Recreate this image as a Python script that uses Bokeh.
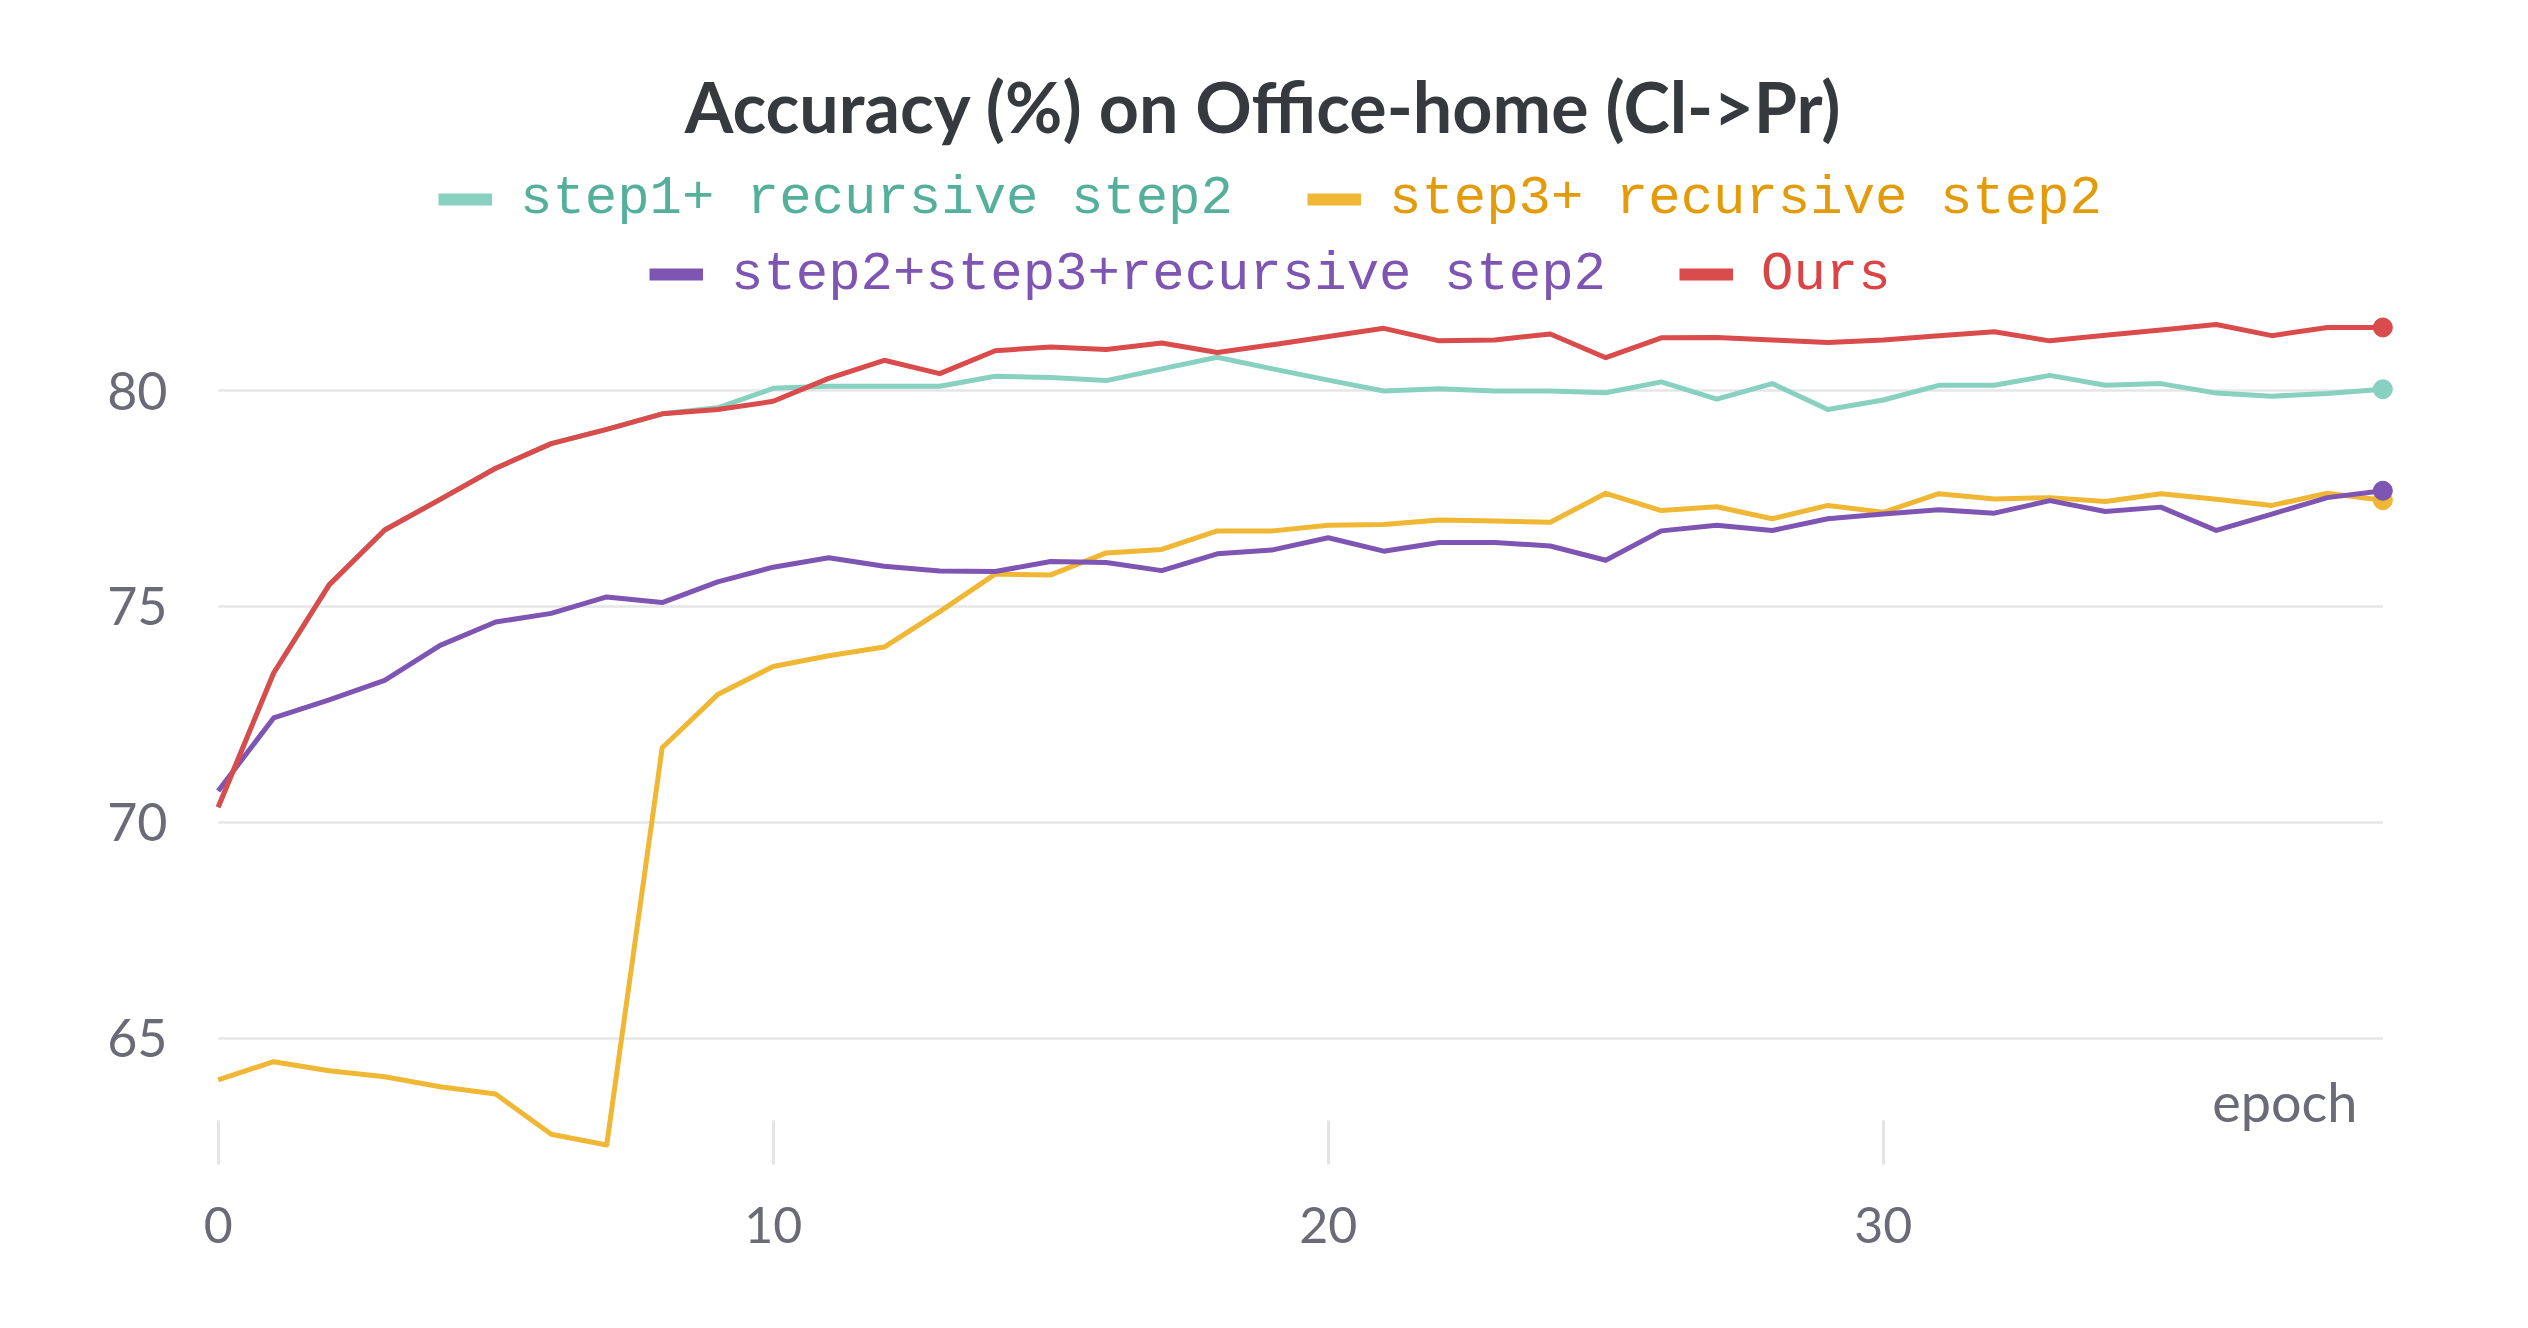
from bokeh.plotting import figure
from bokeh.models import (Range1d, FixedTicker, Legend, LegendItem, Label)
from bokeh.embed import file_html
from bokeh.resources import INLINE

# ---------------- data ----------------
epochs = list(range(40))

step1_recursive = [70.35, 73.46, 75.50, 76.77, 77.48, 78.20, 78.77, 79.10, 79.46, 79.60,
                   80.05, 80.10, 80.10, 80.10, 80.33, 80.30, 80.23, 80.50, 80.77, 80.50,
                   80.24, 79.99, 80.04, 79.99, 79.99, 79.95, 80.20, 79.80, 80.16, 79.56,
                   79.78, 80.12, 80.12, 80.35, 80.12, 80.16, 79.94, 79.87, 79.93, 80.03]

step3_recursive = [64.04, 64.46, 64.25, 64.11, 63.88, 63.71, 62.78, 62.53, 71.73, 72.96,
                   73.61, 73.86, 74.06, 74.88, 75.75, 75.73, 76.24, 76.32, 76.75, 76.75,
                   76.88, 76.90, 77.00, 76.98, 76.95, 77.62, 77.22, 77.31, 77.03, 77.34,
                   77.18, 77.61, 77.49, 77.52, 77.43, 77.61, 77.48, 77.34, 77.62, 77.46]

step23_recursive = [70.73, 72.42, 72.84, 73.29, 74.10, 74.64, 74.84, 75.22, 75.09, 75.57,
                    75.91, 76.13, 75.93, 75.82, 75.81, 76.04, 76.02, 75.83, 76.22, 76.31,
                    76.59, 76.28, 76.48, 76.48, 76.40, 76.07, 76.75, 76.88, 76.76, 77.03,
                    77.14, 77.24, 77.16, 77.45, 77.20, 77.30, 76.76, 77.14, 77.52, 77.68]

ours = [70.35, 73.46, 75.50, 76.77, 77.48, 78.20, 78.77, 79.10, 79.46, 79.56,
        79.75, 80.28, 80.70, 80.39, 80.92, 81.01, 80.95, 81.10, 80.88, 81.06,
        81.25, 81.44, 81.15, 81.17, 81.31, 80.76, 81.22, 81.23, 81.17, 81.11,
        81.17, 81.27, 81.36, 81.15, 81.28, 81.40, 81.53, 81.27, 81.46, 81.46]

series_names = ["step1+ recursive step2", "step3+ recursive step2",
                "step2+step3+recursive step2", "Ours"]
series_values = [step1_recursive, step3_recursive, step23_recursive, ours]
line_colors = ["#88d0c0", "#efb734", "#7e55b3", "#da4b4b"]
text_colors = ["#55b09b", "#e39b0a", "#7e55b3", "#da4444"]

x_ticks = [0, 10, 20, 30]
y_ticks = [65, 70, 75, 80]

title_text = "Accuracy (%) on Office-home (Cl->Pr)"
x_label = "epoch"

# ---------------- figure ----------------
# The frame reaches the top of the canvas so that the title and legend rows,
# which sit inside it, are not clipped.
p = figure(width=2512, height=1312, output_backend="svg", toolbar_location=None,
           title=None,
           x_range=Range1d(-0.3, 39.3), y_range=Range1d(62.08, 89.03),
           min_border_left=201, min_border_right=113, min_border_top=0,
           min_border_bottom=148)
p.outline_line_color = None
p.background_fill_color = "white"
p.border_fill_color = "white"
p.xgrid.visible = False
p.ygrid.visible = False

tick_font = "Lato"
tick_color = "#6b6b78"

# x axis: ticks drawn as short light vertical marks
p.xaxis.ticker = FixedTicker(ticks=x_ticks)
p.xaxis.axis_line_color = None
p.xaxis.major_tick_in = 44
p.xaxis.major_tick_out = 0
p.xaxis.major_tick_line_color = "#e4e4e4"
p.xaxis.major_tick_line_width = 3
p.xaxis.minor_tick_line_color = None
p.xaxis.major_label_text_font = tick_font
p.xaxis.major_label_text_font_size = "50px"
p.xaxis.major_label_text_color = tick_color
p.xaxis.major_label_standoff = 42

p.yaxis.ticker = FixedTicker(ticks=y_ticks)
p.yaxis.axis_line_color = None
p.yaxis.major_tick_line_color = None
p.yaxis.minor_tick_line_color = None
p.yaxis.major_tick_in = 0
p.yaxis.major_tick_out = 0
p.yaxis.major_label_text_font = tick_font
p.yaxis.major_label_text_font_size = "52px"
p.yaxis.major_label_text_color = tick_color
p.yaxis.major_label_standoff = 34

# horizontal grid lines spanning the epoch range
p.segment(x0=epochs[0], x1=epochs[-1], y0=y_ticks, y1=y_ticks,
          line_color="#e6e6e6", line_width=2.5)

# ---------------- series ----------------
legend_renderers = []
for vals, col in zip(series_values, line_colors):
    p.line(epochs, vals, line_color=col, line_width=5, line_join="round")
    p.scatter(epochs[-1:], vals[-1:], size=19, color=col)
    lr = p.line(epochs, vals, line_color=col, line_width=12, line_cap="butt",
                visible=False)
    legend_renderers.append(lr)

# legends: two centred rows, each item with its own text colour
legend_pos = [(237, 930.5), (1106, 930.5), (448, 855), (1478, 855)]
for name, lr, tcol, pos in zip(series_names, legend_renderers, text_colors, legend_pos):
    lg = Legend(items=[LegendItem(label=name, renderers=[lr])], location=pos,
                orientation="horizontal", padding=0, margin=0, spacing=0,
                glyph_width=54, glyph_height=50, label_height=70, label_standoff=28,
                label_text_font="Liberation Mono", label_text_font_size="54px",
                label_text_color=tcol, border_line_color=None,
                background_fill_alpha=0)
    p.add_layout(lg, "center")

# title
p.add_layout(Label(x=1062, y=1059, x_units="screen", y_units="screen", text=title_text,
                   text_align="center", text_baseline="alphabetic",
                   text_font="Lato", text_font_style="bold", text_font_size="70px",
                   text_color="#36393d"))
# x-axis name inside the plot
p.add_layout(Label(x=2156, y=63, x_units="screen", y_units="screen", text=x_label,
                   text_align="right", text_baseline="alphabetic",
                   text_font=tick_font, text_font_size="54px", text_color=tick_color))

open("out.html", "w").write(file_html(p, INLINE))
